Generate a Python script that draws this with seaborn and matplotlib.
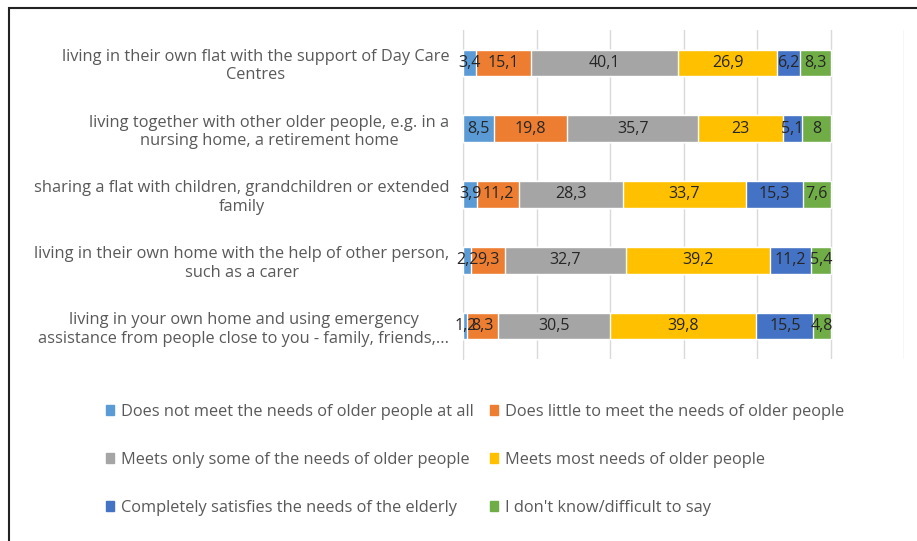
import numpy as np
import pandas as pd
import matplotlib
matplotlib.use("Agg")
import matplotlib.pyplot as plt
from matplotlib.patches import Rectangle
import seaborn as sns

categories = [
    "living in their own flat with the support of Day Care\nCentres",
    "living together with other older people, e.g. in a\nnursing home, a retirement home",
    "sharing a flat with children, grandchildren or extended\nfamily",
    "living in their own home with the help of other person,\nsuch as a carer",
    "living in your own home and using emergency\nassistance from people close to you - family, friends,...",
]
series_names = [
    "Does not meet the needs of older people at all",
    "Does little to meet the needs of older people",
    "Meets only some of the needs of older people",
    "Meets most needs of older people",
    "Completely satisfies the needs of the elderly",
    "I don't know/difficult to say",
]
not_at_all = [3.4, 8.5, 3.9, 2.2, 1.2]
little = [15.1, 19.8, 11.2, 9.3, 8.3]
some = [40.1, 35.7, 28.3, 32.7, 30.5]
most = [26.9, 23, 33.7, 39.2, 39.8]
completely = [6.2, 5.1, 15.3, 11.2, 15.5]
dont_know = [8.3, 8, 7.6, 5.4, 4.8]
colors = ["#5B9BD5", "#ED7D31", "#A5A5A5", "#FFC000", "#4472C4", "#70AD47"]

sns.set_style("white")
plt.rcParams["font.family"] = ["Open Sans", "DejaVu Sans"]

values = np.array([not_at_all, little, some, most, completely, dont_know])
cum = values.cumsum(axis=0)
df = pd.DataFrame({"category": categories})
for i, name in enumerate(series_names):
    df[name] = cum[i]

fig = plt.figure(figsize=(9.17, 5.41), dpi=100)
ax = fig.add_axes([0.505, 0.336, 0.481, 0.609])

# draw cumulative totals, widest first, so segments look stacked
for i in reversed(range(len(series_names))):
    sns.barplot(data=df, x=series_names[i], y="category", color=colors[i],
                orient="h", width=0.4, saturation=1, ax=ax, zorder=3)

for i in range(len(series_names)):
    for j in range(len(categories)):
        v = values[i, j]
        txt = ("%g" % v).replace(".", ",")
        ax.text(cum[i, j] - v / 2, j, txt, ha="center", va="center",
                fontsize=11.5, color="#262626", zorder=5)

ax.set_xlim(0, 120)
ax.set_ylim(len(categories) - 0.5, -0.5)
ax.set_xticks(np.arange(0, 121, 20))
ax.set_xticklabels([])
ax.tick_params(axis="x", length=0)
ax.grid(axis="x", color="#D9D9D9", linewidth=1, zorder=0)
ax.set_xlabel("")
ax.set_ylabel("")
for s in ["top", "right", "bottom"]:
    ax.spines[s].set_visible(False)
ax.spines["left"].set_color("#D9D9D9")
ax.set_yticks(range(len(categories)))
ax.set_yticklabels(categories, fontsize=11.8, color="#595959", multialignment="center")
ax.tick_params(axis="y", which="major", length=0, pad=10)
ax.set_yticks(np.arange(-0.5, len(categories), 1), minor=True)
ax.tick_params(axis="y", which="minor", length=5, color="#D9D9D9")

handles = [Rectangle((0, 0), 1, 1, color=c) for c in colors]
order = [0, 2, 4, 1, 3, 5]
fig.legend([handles[k] for k in order], [series_names[k] for k in order],
           loc="center", bbox_to_anchor=(0.518, 0.15), ncol=2, frameon=False,
           fontsize=11.8, labelcolor="#595959", handlelength=0.5, handleheight=0.5,
           handletextpad=0.4, columnspacing=1.0, labelspacing=1.95)

# chart border (only top and left visible in the crop)
fig.patches.append(Rectangle((9 / 917, -0.5), 2, 0.5 + 1 - 8 / 541, transform=fig.transFigure,
                             fill=False, edgecolor="#222222", linewidth=1.5))

fig.savefig("out.png", dpi=100)
